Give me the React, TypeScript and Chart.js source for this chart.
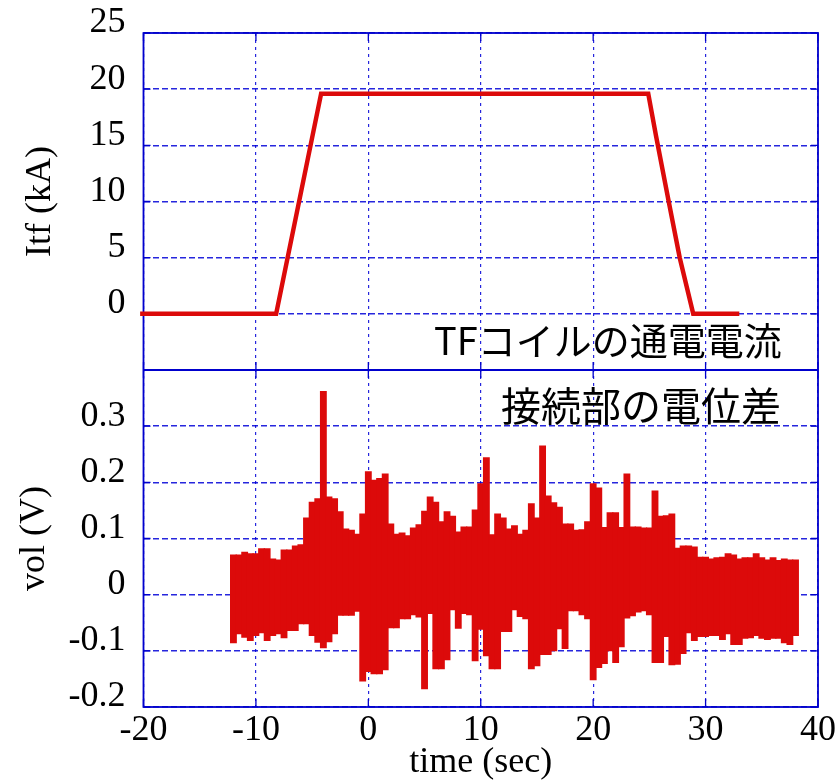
import React, { useEffect, useRef } from 'react';
import { Chart, registerables } from 'chart.js';

Chart.register(...registerables);

// ---- Data ----
// TF coil current (kA) vs time (sec)
const itfTime = [-20.3, -8.2, -4.2, 24.9, 25.6, 26.7, 27.7, 28.9, 33.0];
const itfCurrent = [0, 0, 19.6, 19.6, 15.8, 10.1, 5.0, 0, 0];

// Joint voltage (V): envelope (min / max) of the noisy signal per 0.5 s bin
const volTime = [
  -12, -11.5, -11, -10.5, -10, -9.5, -9, -8.5, -8, -7.5, -7, -6.5, -6, -5.5, -5, -4.5, -4, -3.5, -3, -2.5,
  -2, -1.5, -1, -0.5, 0, 0.5, 1, 1.5, 2, 2.5, 3, 3.5, 4, 4.5, 5, 5.5, 6, 6.5, 7, 7.5,
  8, 8.5, 9, 9.5, 10, 10.5, 11, 11.5, 12, 12.5, 13, 13.5, 14, 14.5, 15, 15.5, 16, 16.5, 17, 17.5,
  18, 18.5, 19, 19.5, 20, 20.5, 21, 21.5, 22, 22.5, 23, 23.5, 24, 24.5, 25, 25.5, 26, 26.5, 27, 27.5,
  28, 28.5, 29, 29.5, 30, 30.5, 31, 31.5, 32, 32.5, 33, 33.5, 34, 34.5, 35, 35.5, 36, 36.5, 37, 37.5, 38,
];
const volHigh = [
  0.071, 0.071, 0.076, 0.073, 0.073, 0.082, 0.082, 0.064, 0.062, 0.080, 0.080, 0.087, 0.089, 0.137, 0.165, 0.171, 0.362, 0.174, 0.171, 0.148,
  0.117, 0.115, 0.108, 0.144, 0.219, 0.204, 0.207, 0.215, 0.126, 0.108, 0.110, 0.105, 0.119, 0.125, 0.149, 0.174, 0.165, 0.130, 0.148, 0.140,
  0.112, 0.121, 0.121, 0.151, 0.198, 0.244, 0.107, 0.144, 0.137, 0.117, 0.123, 0.108, 0.115, 0.162, 0.137, 0.265, 0.176, 0.164, 0.156, 0.126,
  0.126, 0.115, 0.116, 0.130, 0.198, 0.190, 0.120, 0.146, 0.146, 0.120, 0.215, 0.121, 0.121, 0.119, 0.119, 0.185, 0.140, 0.141, 0.144, 0.083,
  0.087, 0.087, 0.085, 0.067, 0.067, 0.064, 0.066, 0.067, 0.073, 0.071, 0.064, 0.066, 0.066, 0.073, 0.066, 0.062, 0.066, 0.061, 0.064, 0.062, 0.062,
];
const volLow = [
  -0.086, -0.070, -0.076, -0.082, -0.073, -0.068, -0.082, -0.073, -0.070, -0.077, -0.064, -0.064, -0.052, -0.052, -0.073, -0.085, -0.095, -0.084, -0.070, -0.037,
  -0.037, -0.037, -0.030, -0.154, -0.137, -0.141, -0.141, -0.134, -0.059, -0.059, -0.043, -0.043, -0.036, -0.040, -0.168, -0.034, -0.132, -0.132, -0.116, -0.027,
  -0.060, -0.034, -0.036, -0.118, -0.062, -0.109, -0.132, -0.132, -0.066, -0.066, -0.027, -0.039, -0.043, -0.132, -0.127, -0.107, -0.107, -0.100, -0.061, -0.096,
  -0.029, -0.029, -0.036, -0.043, -0.152, -0.130, -0.123, -0.100, -0.121, -0.093, -0.042, -0.038, -0.031, -0.029, -0.036, -0.121, -0.121, -0.075, -0.125, -0.124,
  -0.105, -0.068, -0.082, -0.075, -0.075, -0.073, -0.073, -0.080, -0.070, -0.089, -0.089, -0.078, -0.077, -0.073, -0.078, -0.080, -0.078, -0.078, -0.086, -0.089, -0.073,
];

const xTitle = 'time (sec)';
const itfTitle = 'Itf (kA)';
const volTitle = 'vol (V)';
const itfLabel = 'TFコイルの通電電流';
const volLabel = '接続部の電位差';

// ---- Styles ----
const RED = '#dc0a0a';
const BLUE = '#0000cd';
const GRID = 'rgba(0,0,215,0.85)';
const SERIF = "'Liberation Serif', 'Times New Roman', serif";
const CJK = "'Noto Sans CJK JP', 'Noto Sans', sans-serif";

const framePlugin = {
  id: 'frame',
  beforeDatasetsDraw(chart: any) {
    const { ctx, chartArea: a, scales } = chart;
    const x = scales.x;
    const panels = [scales.yI, scales.yV];
    ctx.save();
    ctx.strokeStyle = BLUE;
    ctx.lineWidth = 1.3;
    ctx.beginPath();
    for (const p of panels) {
      for (const t of x.ticks) {
        const px = x.getPixelForValue(t.value);
        ctx.moveTo(px, p.top);
        ctx.lineTo(px, p.top + 8);
        ctx.moveTo(px, p.bottom);
        ctx.lineTo(px, p.bottom - 8);
      }
      for (const t of p.ticks) {
        const py = p.getPixelForValue(t.value);
        ctx.moveTo(a.left, py);
        ctx.lineTo(a.left + 7, py);
        ctx.moveTo(a.right, py);
        ctx.lineTo(a.right - 7, py);
      }
    }
    ctx.stroke();
    ctx.lineWidth = 1.8;
    ctx.strokeRect(a.left, a.top, a.right - a.left, a.bottom - a.top);
    ctx.beginPath();
    ctx.moveTo(a.left, scales.yI.bottom);
    ctx.lineTo(a.right, scales.yI.bottom);
    ctx.stroke();
    ctx.restore();
  },
  afterDraw(chart: any) {
    const { ctx, chartArea: a, scales } = chart;
    ctx.save();
    ctx.fillStyle = '#000';
    ctx.textAlign = 'left';
    ctx.textBaseline = 'middle';
    ctx.font = `38px ${CJK}`;
    ctx.fillText(itfLabel, a.right - 384, scales.yI.bottom - 29);
    ctx.font = `40px ${CJK}`;
    ctx.fillText(volLabel, a.right - 317, scales.yV.top + 36);
    ctx.restore();
  },
};

export default function App() {
  const ref = useRef<HTMLCanvasElement | null>(null);

  useEffect(() => {
    if (!ref.current) return;
    const serifFont = { family: SERIF, size: 36 };
    const chart = new Chart(ref.current, {
      type: 'line',
      data: {
        datasets: [
          {
            type: 'line',
            label: itfTitle,
            data: itfTime.map((t, i) => ({ x: t, y: itfCurrent[i] })),
            xAxisID: 'x',
            yAxisID: 'yI',
            borderColor: RED,
            borderWidth: 4.5,
            pointRadius: 0,
            tension: 0,
            fill: false,
            clip: 5,
          } as any,
          {
            type: 'bar',
            label: volTitle,
            data: volTime.map((t, i) => ({ x: t, y: [volLow[i], volHigh[i]] })),
            xAxisID: 'x',
            yAxisID: 'yV',
            backgroundColor: RED,
            borderWidth: 0,
            barThickness: 6.2,
            grouped: false,
          } as any,
        ],
      },
      options: {
        animation: false,
        responsive: false,
        layout: { padding: { top: 33, right: 21, left: 0, bottom: 0 } },
        plugins: { legend: { display: false }, tooltip: { enabled: false } },
        scales: {
          x: {
            type: 'linear',
            position: 'bottom',
            min: -20,
            max: 40,
            offset: false,
            ticks: { stepSize: 10, padding: 2, color: '#000', font: serifFont, maxRotation: 0, autoSkip: false },
            grid: { color: GRID, lineWidth: 1.2, drawTicks: false, offset: false },
            border: { display: false, dash: [3, 4] },
            title: { display: true, text: xTitle, color: '#000', font: serifFont, padding: { top: 0, bottom: -2 } },
            afterFit: (s: any) => {
              s.height = 75;
              s.paddingLeft = 0;
              s.paddingRight = 0;
            },
          },
          yV: {
            type: 'linear',
            position: 'left',
            stack: 'panels',
            stackWeight: 1,
            min: -0.2,
            max: 0.4,
            ticks: {
              stepSize: 0.1,
              padding: 18,
              labelOffset: -10,
              autoSkip: false,
              color: '#000',
              font: serifFont,
              callback: (v: any) => (v > 0.35 ? '' : String(Math.round(v * 10) / 10)),
            },
            grid: { color: GRID, lineWidth: 1.5, drawTicks: false },
            border: { display: false, dash: [6, 3] },
            title: { display: true, text: volTitle, color: '#000', font: serifFont, padding: { top: 13, bottom: 0 } },
            afterFit: (s: any) => {
              s.width = 143.5;
              s.paddingTop = 0;
              s.paddingBottom = 0;
            },
          },
          yI: {
            type: 'linear',
            position: 'left',
            stack: 'panels',
            stackWeight: 1,
            min: -5,
            max: 25,
            ticks: {
              stepSize: 5,
              padding: 18,
              labelOffset: -10,
              autoSkip: false,
              color: '#000',
              font: serifFont,
              callback: (v: any) => (v < 0 ? '' : String(v)),
            },
            grid: { color: GRID, lineWidth: 1.5, drawTicks: false },
            border: { display: false, dash: [6, 3] },
            title: { display: true, text: itfTitle, color: '#000', font: serifFont, padding: { top: 19, bottom: 0 } },
            afterFit: (s: any) => {
              s.width = 143.5;
              s.paddingTop = 0;
              s.paddingBottom = 0;
            },
          },
        },
      } as any,
      plugins: [framePlugin],
    });
    return () => chart.destroy();
  }, []);

  return (
    <div style={{ position: 'fixed', left: 0, top: 0, width: 839, height: 782, background: '#fff' }}>
      <canvas ref={ref} width={839} height={782} style={{ width: 839, height: 782, display: 'block' }} />
    </div>
  );
}
